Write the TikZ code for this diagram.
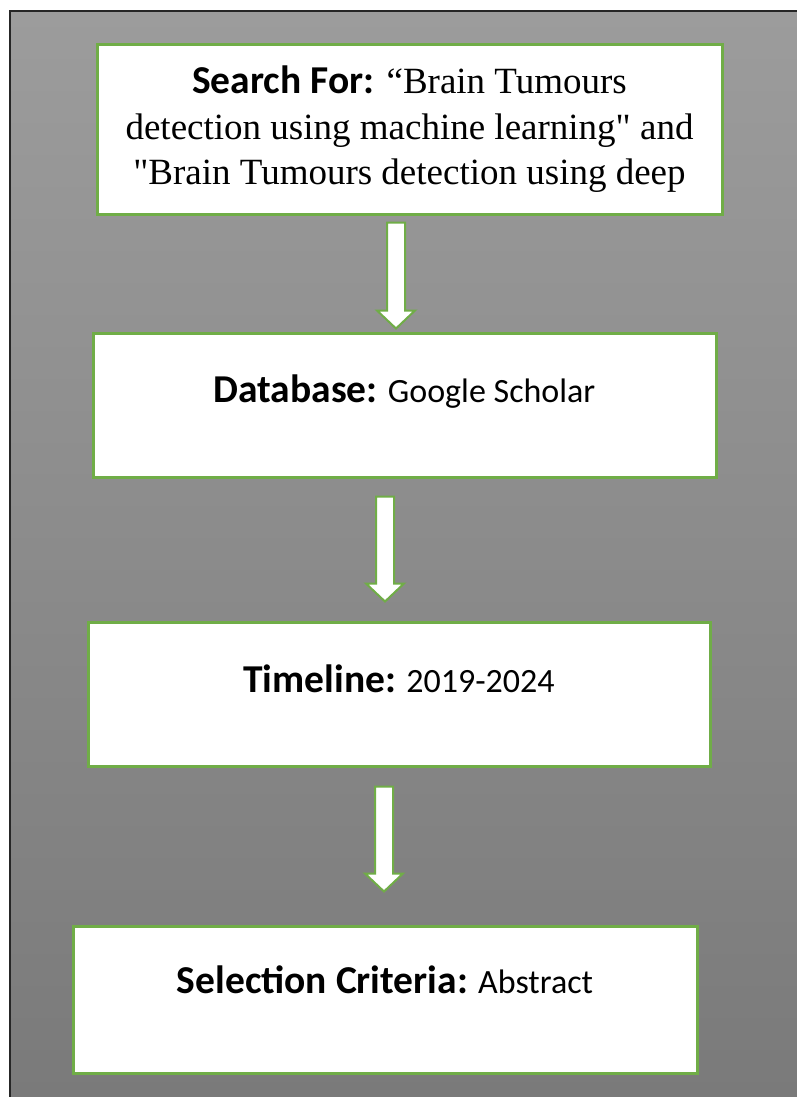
\documentclass[tikz,border=0pt]{standalone}
\usepackage{fontspec}
\setmainfont{Liberation Serif}
\newfontfamily\calibri{Carlito}
\usetikzlibrary{calc}

\definecolor{vertbord}{RGB}{112,173,71}
\definecolor{grishaut}{RGB}{156,156,156}
\definecolor{grisbas}{RGB}{122,122,122}

% titres en gras et texte sans empattement
\newcommand{\titre}[1]{{\calibri\bfseries\fontsize{39.5}{45}\selectfont #1}}
\newcommand{\sanstexte}[1]{{\calibri\fontsize{34}{45}\selectfont #1}}

% fleche blanche : haut du fut, pointe
\newcommand{\flechebloc}[2]{%
	\draw[fleche] ($(#1)+(-9,0)$) -- ($(#1)+(9,0)$) -- ($(#2)+(9,-18)$) -- ($(#2)+(19,-18)$) -- (#2) -- ($(#2)+(-19,-18)$) -- ($(#2)+(-9,-18)$) -- cycle;}

\begin{document}
\begin{tikzpicture}[x=1pt,y=-1pt]

\tikzset{boite/.style={draw=vertbord,line width=3pt,fill=white,inner sep=0pt,align=center},
	fleche/.style={draw=vertbord,line width=2pt,fill=white,line join=miter}}

\useasboundingbox (0,0) rectangle (797,1097);

%fond degrade et cadre
\shade[top color=grishaut,bottom color=grisbas] (10,11) rectangle (797,1097);
\draw[line width=1.2pt,black!85] (10,1097) -- (10,11) -- (797,11);

%----------boites------------
\node[boite,minimum width=625,minimum height=169,font=\fontsize{37}{45.5}\selectfont] (recherche) at (409.5,129.5)
	{\titre{Search For:} “Brain Tumours\\ detection using machine learning\textquotedbl{} and\\ \textquotedbl Brain Tumours detection using deep};

\node[boite,minimum width=623,minimum height=144,text height=27pt,text depth=33pt] (base) at (404.5,405)
	{\titre{Database:}\sanstexte{ Google Scholar}};

\node[boite,minimum width=622,minimum height=144,text height=27pt,text depth=31pt] (periode) at (399,694)
	{\titre{Timeline:}\sanstexte{ 2019-2024}};

\node[boite,minimum width=624,minimum height=147,text height=27pt,text depth=40pt] (selection) at (385,999.5)
	{\titre{Selection Criteria:}\sanstexte{ Abstract}};

%----------fleches------------
\coordinate (h1) at ($(recherche.south)+(-13.5,7)$);
\coordinate (p1) at ($(h1 |- base.north)+(0,-3)$);
\coordinate (h2) at ($(base.south)+(-19.5,18)$);
\coordinate (p2) at ($(h2 |- periode.north)+(0,-19)$);
\coordinate (h3) at ($(periode.south)+(-15,19)$);
\coordinate (p3) at ($(h3 |- selection.north)+(0,-33)$);

\flechebloc{h1}{p1}
\flechebloc{h2}{p2}
\flechebloc{h3}{p3}

\end{tikzpicture}
\end{document}
